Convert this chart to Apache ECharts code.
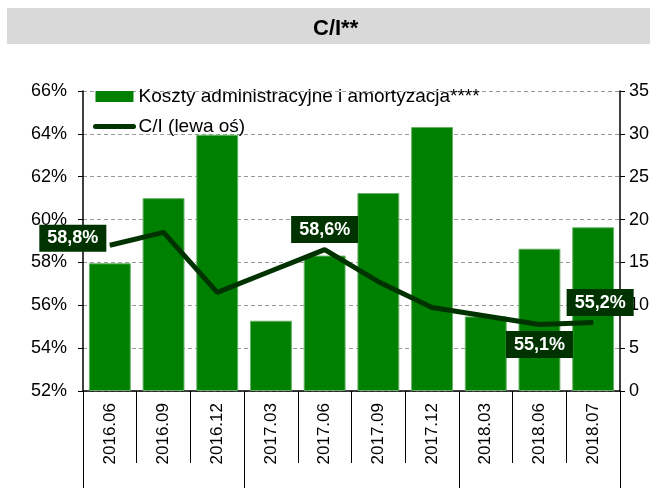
<!DOCTYPE html>
<html>
<head>
<meta charset="utf-8">
<script src="https://cdn.jsdelivr.net/npm/echarts@6/dist/echarts.min.js"></script>
<style>
html, body {margin:0; padding:0; background:#fff;}
#chart {width:650px; height:488px;}
</style>
</head>
<body>
<div id="chart"></div>
<script>
var categories = ['2016.06','2016.09','2016.12','2017.03','2017.06','2017.09','2017.12','2018.03','2018.06','2018.07'];
var years = ['2016','2016','2016','2017','2017','2017','2017','2018','2018','2018'];
// koszty administracyjne i amortyzacja (prawa oś)
var koszty = [14.9, 22.5, 29.9, 8.2, 15.8, 23.1, 30.8, 8.7, 16.6, 19.1];
// C/I w % (lewa oś)
var ciRatio = [58.8, 59.4, 56.6, 57.6, 58.6, 57.1, 55.9, 55.5, 55.1, 55.2];
var leftMin = 52, leftMax = 66, leftStep = 2;
var rightMin = 0, rightMax = 35, rightStep = 5;

var font = 'Arial, "Liberation Sans", sans-serif';

// which points get a value box
var labelPos = {0: 'left', 4: 'top', 8: 'bottom', 9: 'top'};
var lineData = ciRatio.map(function (v, i) {
	var item = {value: v};
	if (labelPos[i]) {
		item.label = {show: true, position: labelPos[i]};
		if (i == 0) {
			item.label.distance = 3;
			item.label.offset = [0, -7];
		}
		if (i == 9) item.label.offset = [7, 0];
	}
	return item;
});

var myChart = echarts.init(document.getElementById('chart'));
var option = {
	animation: false,
	graphic: [{
		type: 'rect',
		left: 7, top: 8,
		shape: {width: 660, height: 36},
		style: {fill: '#d9d9d9'},
		z: -10
	}],
	title: {
		text: 'C/I**',
		left: 308,
		top: 13,
		textStyle: {fontFamily: font, fontSize: 22, fontWeight: 'bold', color: '#000'}
	},
	legend: {
		orient: 'vertical',
		left: 88,
		top: 82,
		itemWidth: 38,
		itemHeight: 11,
		itemGap: 11,
		textStyle: {fontFamily: font, fontSize: 19, color: '#000'},
		data: [{
			name: 'Koszty administracyjne i amortyzacja****',
			icon: 'rect',
			itemStyle: {borderWidth: 0}
		}, {
			name: 'C/I (lewa oś)',
			itemStyle: {opacity: 0},
			lineStyle: {width: 5, cap: 'round', color: '#003300'}
		}]
	},
	grid: {left: 83, right: 30, top: 91, bottom: 97, outerBoundsMode: 'none'},
	xAxis: [{
		type: 'category',
		data: categories,
		boundaryGap: true,
		axisLine: {lineStyle: {color: '#000', width: 1.5}},
		axisTick: {show: true, interval: 0, length: 72, lineStyle: {color: '#000'}},
		axisLabel: {interval: 0, rotate: 90, margin: 12, fontFamily: font, fontSize: 17, color: '#000'}
	}, {
		type: 'category',
		data: years,
		position: 'bottom',
		offset: 72,
		axisLine: {show: false},
		axisTick: {
			show: true,
			length: 26,
			lineStyle: {color: '#000'},
			interval: function (index) {
				return index == 0 || years[index] != years[index - 1];
			}
		},
		axisLabel: {show: false}
	}],
	yAxis: [{
		type: 'value',
		position: 'left',
		min: leftMin, max: leftMax, interval: leftStep,
		axisLine: {show: true, lineStyle: {color: '#000', width: 1.5}},
		axisTick: {show: true, length: 5, lineStyle: {color: '#000'}},
		axisLabel: {formatter: '{value}%', margin: 16, fontFamily: font, fontSize: 18, color: '#000'},
		splitLine: {show: true, lineStyle: {color: '#999', type: [4, 3], width: 1}}
	}, {
		type: 'value',
		position: 'right',
		min: rightMin, max: rightMax, interval: rightStep,
		axisLine: {show: true, lineStyle: {color: '#000', width: 1.5}},
		axisTick: {show: true, length: 5, lineStyle: {color: '#000'}},
		axisLabel: {margin: 9, fontFamily: font, fontSize: 18, color: '#000'},
		splitLine: {show: false}
	}],
	series: [{
		name: 'Koszty administracyjne i amortyzacja****',
		type: 'bar',
		xAxisIndex: 0,
		yAxisIndex: 1,
		barWidth: '78%',
		itemStyle: {color: '#008000', borderColor: '#66b366', borderWidth: 1},
		data: koszty
	}, {
		name: 'C/I (lewa oś)',
		type: 'line',
		xAxisIndex: 0,
		yAxisIndex: 0,
		symbol: 'circle',
		symbolSize: 1,
		z: 3,
		itemStyle: {color: '#003300'},
		lineStyle: {color: '#003300', width: 5},
		label: {
			distance: 6,
			fontFamily: font,
			fontSize: 18,
			fontWeight: 'bold',
			color: '#fff',
			backgroundColor: '#003300',
			padding: [5, 8, 4, 8],
			formatter: function (p) {
				return p.value.toFixed(1).replace('.', ',') + '%';
			}
		},
		data: lineData
	}]
};
myChart.setOption(option);
</script>
</body>
</html>
